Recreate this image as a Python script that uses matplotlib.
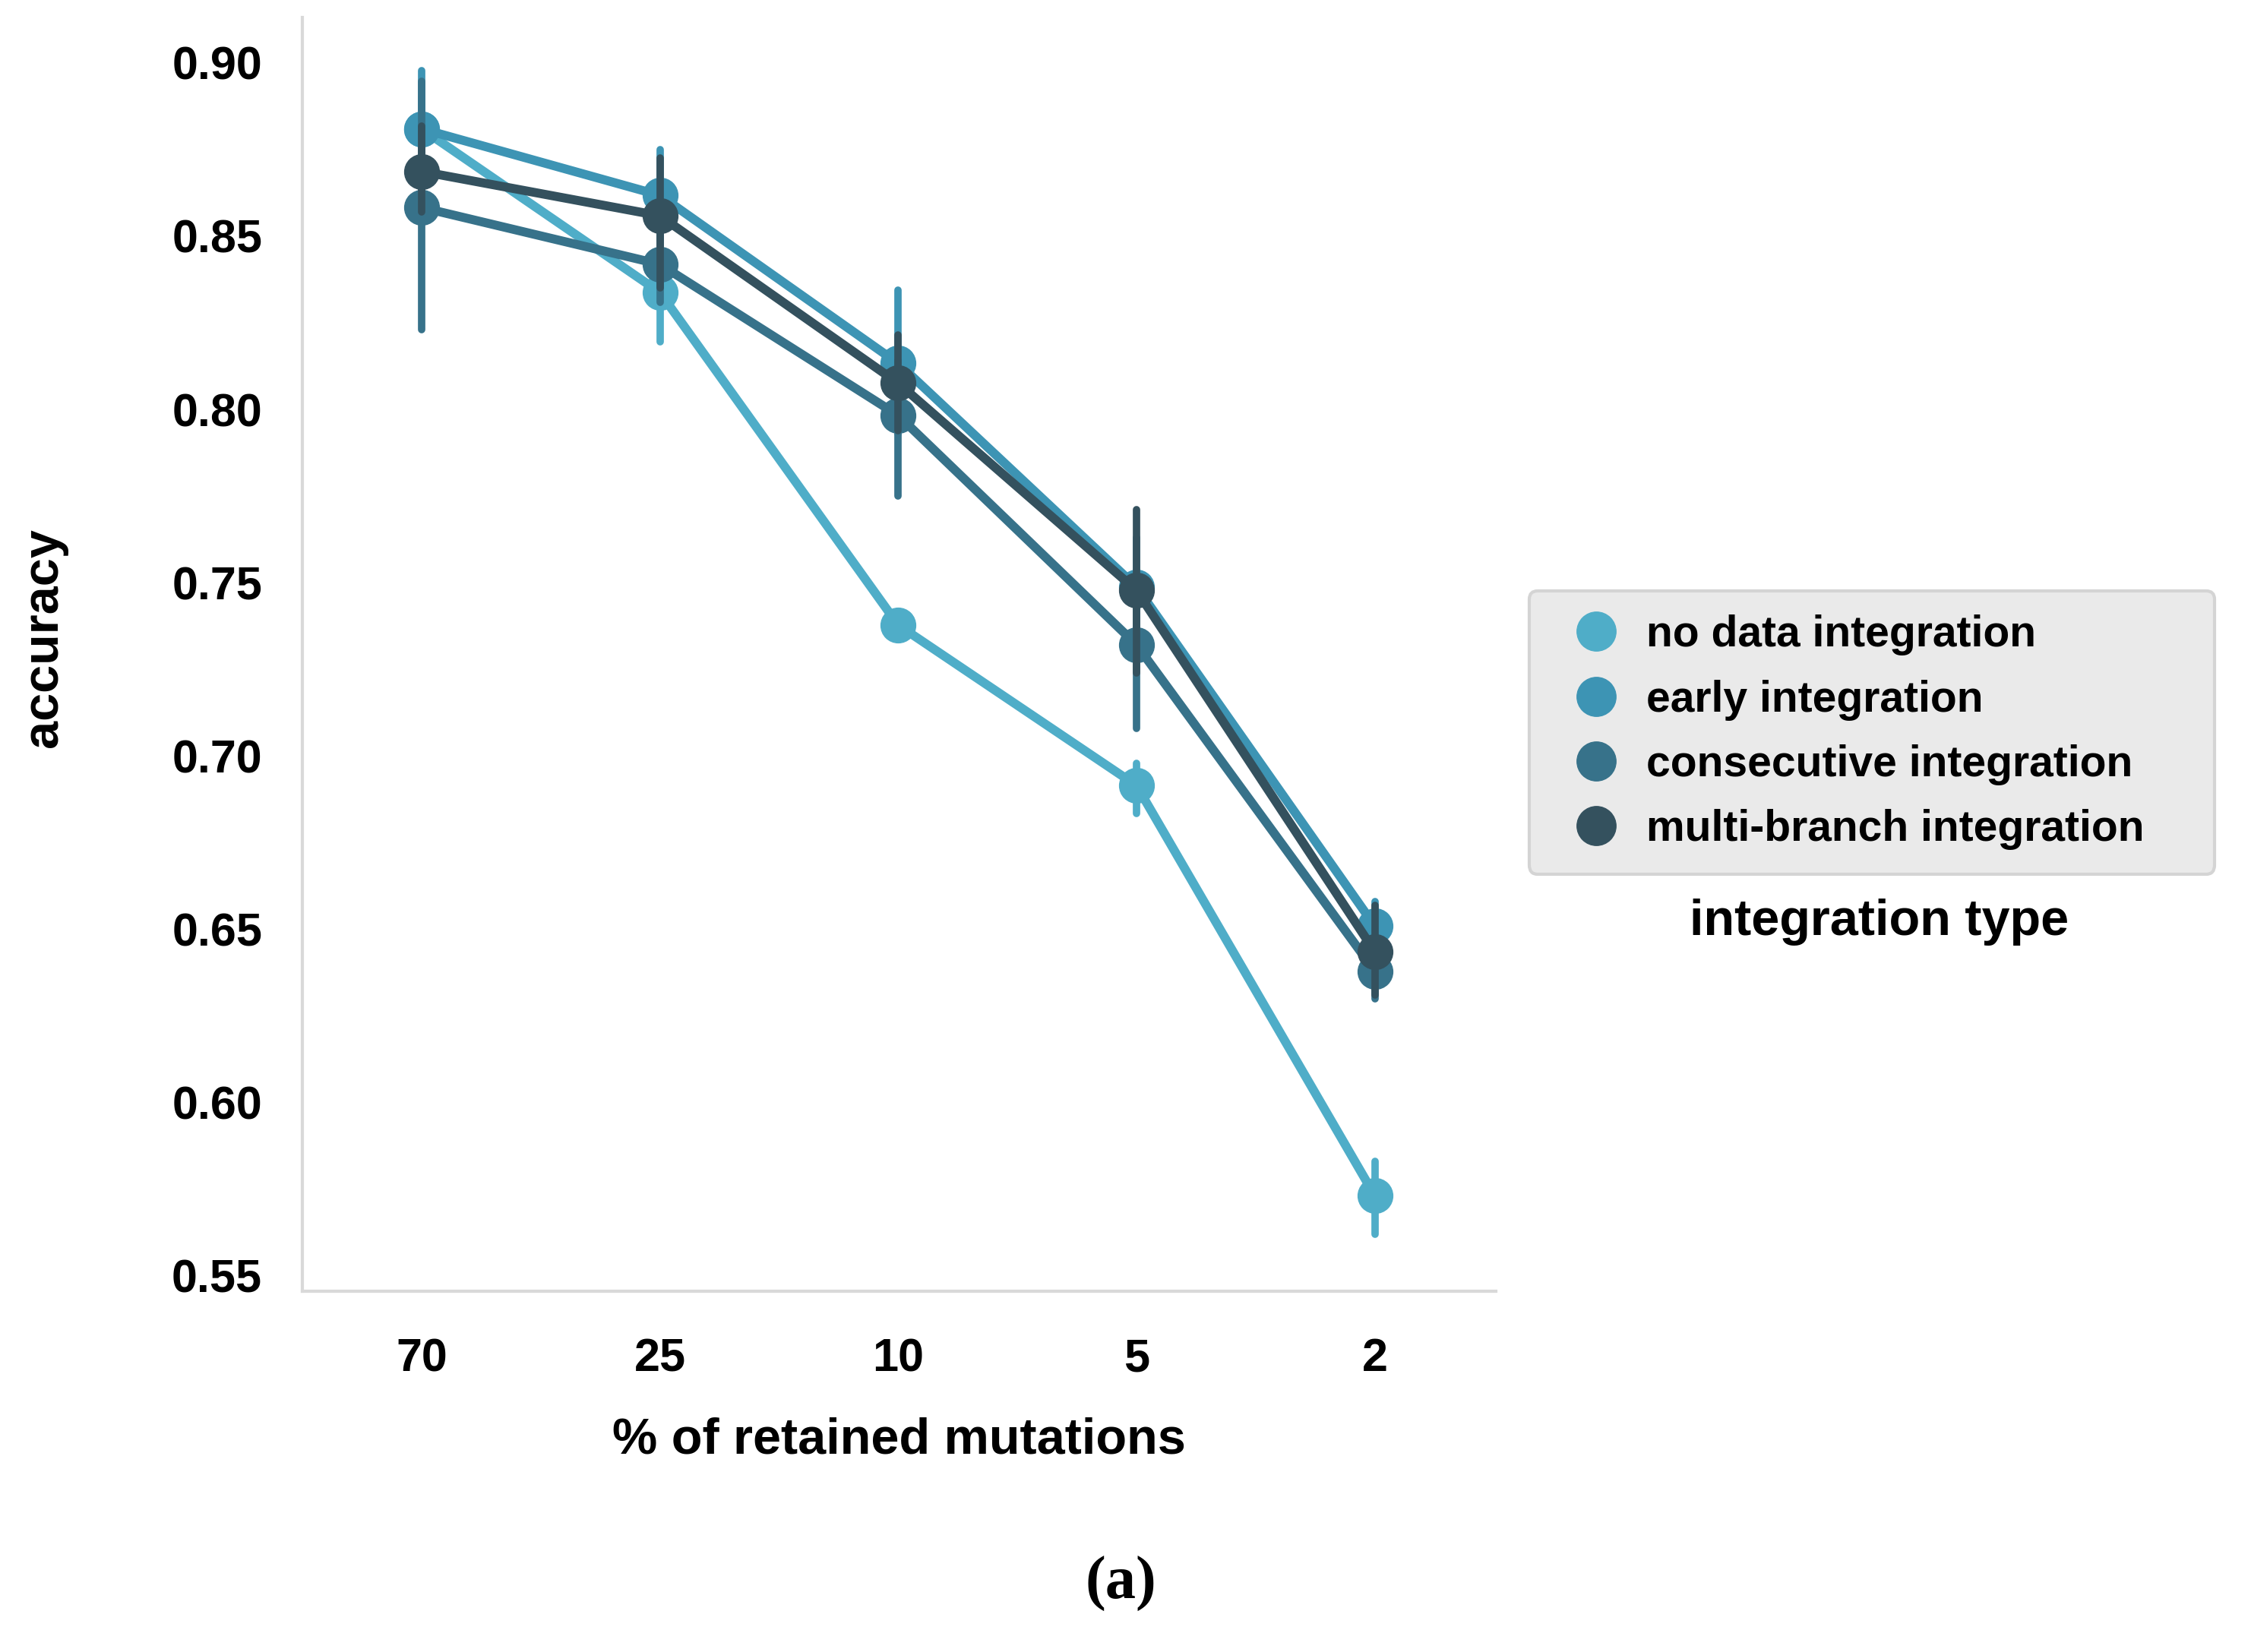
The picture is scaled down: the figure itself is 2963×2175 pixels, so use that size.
import matplotlib
matplotlib.use("Agg")
import matplotlib.pyplot as plt
from matplotlib.lines import Line2D

plt.rcParams["font.family"] = ["Liberation Sans", "DejaVu Sans"]
plt.rcParams["font.weight"] = "bold"

# categories on the x axis (% of retained mutations)
retained = ["70", "25", "10", "5", "2"]

series_names = [
    "no data integration",
    "early integration",
    "consecutive integration",
    "multi-branch integration",
]
series_colors = ["#4fadc8", "#3d94b4", "#37728a", "#34515e"]

# mean accuracy and error-bar bounds
no_data_mean = [0.881, 0.8338, 0.7378, 0.6915, 0.5731]
no_data_lo = [0.872, 0.8196, 0.734, 0.6835, 0.562]
no_data_hi = [0.890, 0.839, 0.741, 0.698, 0.583]

early_mean = [0.881, 0.8618, 0.8133, 0.7488, 0.6509]
early_lo = [0.866, 0.849, 0.793, 0.734, 0.643]
early_hi = [0.8978, 0.875, 0.8345, 0.763, 0.658]

consec_mean = [0.8583, 0.8419, 0.7983, 0.7321, 0.6379]
consec_lo = [0.823, 0.831, 0.775, 0.708, 0.630]
consec_hi = [0.8948, 0.852, 0.814, 0.750, 0.645]

multi_mean = [0.8687, 0.8559, 0.8076, 0.7478, 0.6435]
multi_lo = [0.857, 0.835, 0.794, 0.724, 0.631]
multi_hi = [0.8817, 0.8725, 0.8215, 0.771, 0.657]

means = [no_data_mean, early_mean, consec_mean, multi_mean]
lows = [no_data_lo, early_lo, consec_lo, multi_lo]
highs = [no_data_hi, early_hi, consec_hi, multi_hi]

yticks = [0.55, 0.60, 0.65, 0.70, 0.75, 0.80, 0.85, 0.90]

fig = plt.figure(figsize=(29.63, 21.75), dpi=100)
ax = fig.add_axes([0.1343, 0.2184, 0.5302, 0.771])

x = list(range(len(retained)))
for m, lo, hi, c in zip(means, lows, highs, series_colors):
    ax.plot(x, m, color=c, lw=8.5, marker="o", markersize=33,
            solid_capstyle="round", zorder=2)
    ax.vlines(x, lo, hi, color=c, lw=7, capstyle="round", zorder=2)

ax.set_xlim(-0.5, 4.507)
ax.set_ylim(0.5456, 0.9131)
ax.set_xticks(x)
ax.set_xticklabels(retained)
ax.set_yticks(yticks)
ax.set_yticklabels([f"{v:.2f}" for v in yticks])
ax.tick_params(axis="both", length=0, labelsize=44)
ax.tick_params(axis="y", pad=38)
ax.tick_params(axis="x", pad=44)

for s in ["top", "right"]:
    ax.spines[s].set_visible(False)
for s in ["left", "bottom"]:
    ax.spines[s].set_color("#d9d9d9")
    ax.spines[s].set_linewidth(3)

ax.set_xlabel("% of retained mutations", fontsize=48, fontweight="bold")
ax.xaxis.set_label_coords(0.5, -0.117)
ax.xaxis.label.set_va("center")
ax.set_ylabel("accuracy", fontsize=48, fontweight="bold")
ax.yaxis.set_label_coords(-0.2164, 0.513)
ax.yaxis.label.set_va("center")

handles = [Line2D([], [], linestyle="none", marker="o", markersize=37,
                  markerfacecolor=c, markeredgecolor=c) for c in series_colors]
leg = fig.legend(handles, series_names, loc="upper left",
                 bbox_to_anchor=(0.6794, 0.4685, 0.3044, 0.1738),
                 mode="expand", borderaxespad=0,
                 fontsize=41, frameon=True, fancybox=True,
                 borderpad=0.55, labelspacing=0.55, handlelength=2.0,
                 handletextpad=0.16)
leg.get_frame().set_facecolor("#eaeaea")
leg.get_frame().set_edgecolor("#d4d4d4")
leg.get_frame().set_linewidth(3)
leg.get_frame().set_alpha(1)

fig.text(0.8347, 0.4418, "integration type", ha="center", va="center",
         fontsize=48, fontweight="bold")
fig.text(0.4978, 0.0414, "(a)", ha="center", va="center", fontsize=58,
         fontweight="bold", family=["Liberation Serif", "DejaVu Serif"])

fig.savefig("out.png", dpi=100, facecolor="white")
